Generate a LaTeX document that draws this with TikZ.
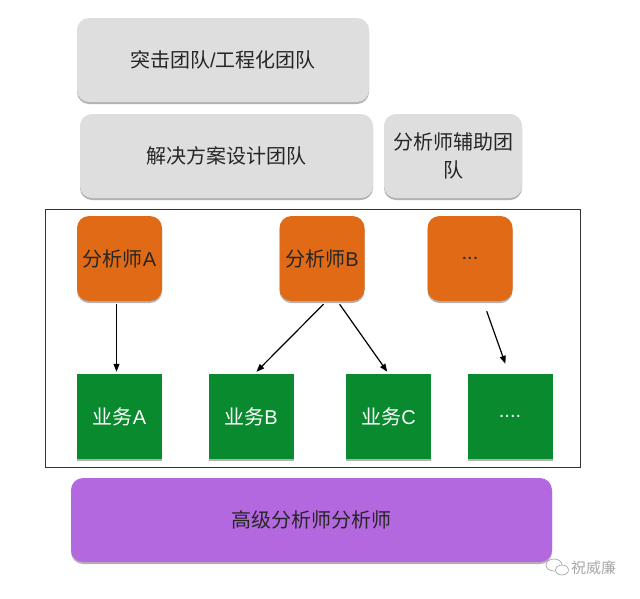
\documentclass[tikz,border=0pt]{standalone}
\usepackage{fontspec}
\setmainfont{Noto Sans CJK SC}
\newfontfamily\latinface{Liberation Sans}
\usetikzlibrary{arrows.meta,shadows,calc}
\definecolor{teamgray}{HTML}{DEDEDF}
\definecolor{analystorange}{HTML}{E06A16}
\definecolor{bizgreen}{HTML}{098A2E}
\definecolor{seniorpurple}{HTML}{B368E0}
\definecolor{marktext}{HTML}{A8A8A8}
\begin{document}
\begin{tikzpicture}[x=1pt,y=-1pt,
  softshadow/.style={drop shadow={shadow xshift=0pt,shadow yshift=-2pt,opacity=0.3,fill=black}},
  teamcard/.style={rounded corners=12pt,fill=teamgray,text=black!85,align=center,
    inner sep=0pt,font=\fontsize{20}{28}\selectfont,softshadow},
  analyst/.style={rounded corners=12pt,fill=analystorange,text=black!85,
    minimum width=85pt,minimum height=85pt,inner sep=0pt,font=\fontsize{20}{24}\selectfont,softshadow},
  bizbox/.style={fill=bizgreen,text=white,minimum width=85pt,minimum height=85pt,
    inner sep=0pt,font=\fontsize{20}{24}\selectfont,softshadow},
  seniorcard/.style={rounded corners=12pt,fill=seniorpurple,text=black!85,
    inner sep=0pt,font=\fontsize{20}{24}\selectfont,softshadow},
  link/.style={-{Triangle[length=8pt,width=6pt]},line width=1.2pt,black}
]
\useasboundingbox (0,0) rectangle (640,598);
\fill[white] (0,0) rectangle (640,598);

% team layers
\node[teamcard,minimum width=292pt,minimum height=84pt] (strike) at (223,60) {突击团队{\latinface /}工程化团队};
\node[teamcard,minimum width=293pt,minimum height=84pt] (design) at (226.5,156) {解决方案设计团队};
\node[teamcard,minimum width=138pt,minimum height=84pt] (assist) at (453,156) {分析师辅助团\\队};

% frame around analysts and business lines
\draw[black!80,line width=0.8pt] (45,209) rectangle (580,467);

% analysts
\node[analyst] (oA) at (119.5,258.5) {分析师{\latinface A}};
\node[analyst] (oB) at (322,258.5) {分析师{\latinface B}};
\node[analyst,font=\fontsize{20}{24}\selectfont\latinface] (oD) at (470,258.5) {...};

% business lines
\node[bizbox] (gA) at (119.5,416.5) {业务{\latinface A}};
\node[bizbox] (gB) at (251,416.5) {业务{\latinface B}};
\node[bizbox] (gC) at (388.5,416.5) {业务{\latinface C}};
\node[bizbox,font=\fontsize{20}{24}\selectfont\latinface] (gD) at (510,416.5) {....};

% assignments
\draw[link] ($(oA.south)+(-3,3)$) -- ($(gA.north)+(-3,-2)$);
\draw[link] ($(oB.south)+(1.5,3)$) -- ($(gB.north)+(5.4,-2)$);
\draw[link] ($(oB.south)+(17.6,3)$) -- ($(gC.north)+(-1.2,-2)$);
\draw[link] ($(oD.south)+(16.7,10)$) -- ($(gD.north)+(-4.6,-10)$);

% senior analysts
\node[seniorcard,minimum width=481pt,minimum height=84pt] (senior) at (311.5,520) {高级分析师分析师};

% signature
\draw[marktext,line width=0.7pt] (554,565) ellipse [x radius=8pt,y radius=6pt];
\draw[marktext,line width=0.7pt,fill=white] (562,570) ellipse [x radius=6.5pt,y radius=5pt];
\node[text=marktext,font=\fontsize{15}{18}\selectfont,anchor=west,inner sep=0pt] (mark) at (571,568) {祝威廉};
\end{tikzpicture}
\end{document}
